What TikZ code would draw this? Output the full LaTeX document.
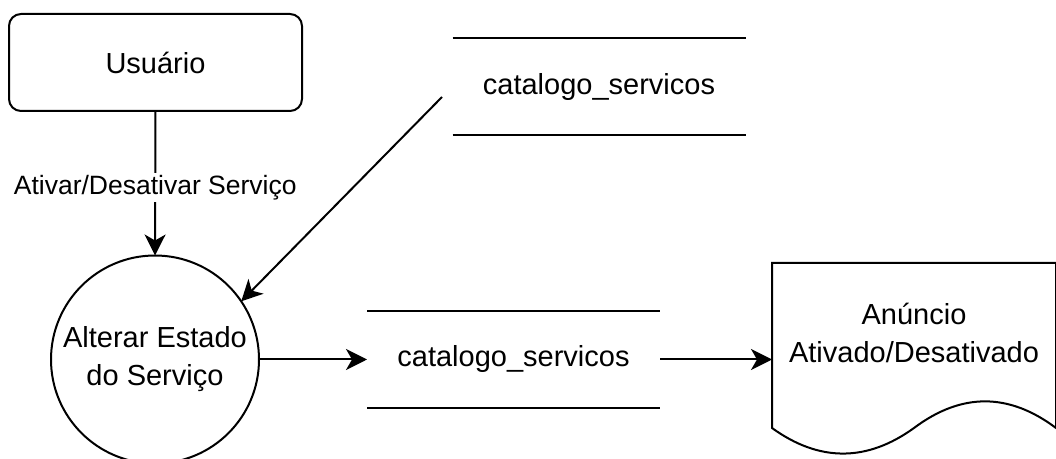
\documentclass[tikz,border=0pt]{standalone}
\usepackage{fontspec}
\setmainfont{Liberation Sans}
\usetikzlibrary{arrows.meta}
\begin{document}
\begin{tikzpicture}[x=0.5pt,y=-0.5pt,
  line width=1pt,
  every node/.style={inner sep=0pt, outer sep=0pt},
  maintext/.style={font=\fontsize{14.5}{19}\selectfont, align=center},
  labeltext/.style={font=\fontsize{13.25}{16}\selectfont, fill=white, inner sep=1pt},
  entitybox/.style={draw, rounded corners=6pt, minimum width=146.5pt, minimum height=48.5pt, maintext},
  procnode/.style={draw, circle, minimum size=104pt, maintext},
  storenode/.style={minimum width=146.5pt, minimum height=48.5pt, maintext},
  flow/.style={-{Stealth[length=10.5pt,width=10.5pt,inset=3pt]}},
]
\useasboundingbox (0,0) rectangle (1056,459);
\clip (0,0) rectangle (1056,459);

\node[entitybox] (user) at (155.5,62.5) {Usuário};
\node[procnode] (proc) at (155,359.5) {Alterar Estado\\do Serviço};
\node[storenode] (store1) at (599,87) {catalogo\_servicos};
\node[storenode] (store2) at (513.5,359.5) {catalogo\_servicos};
\node[minimum width=142pt, minimum height=96.5pt] (doc) at (914,359.5) {};
\node[maintext] (doctext) at (914,333) {Anúncio\\Ativado/Desativado};
\coordinate (src1) at (442,97);

% data stores
\draw (store1.north west) -- (store1.north east);
\draw (store1.south west) -- (store1.south east);
\draw (store2.north west) -- (store2.north east);
\draw (store2.south west) -- (store2.south east);

% document shape
\draw (772,263) -- (1056,263) -- (1056,428)
  .. controls (1008.7,392.5) and (961.3,392.5) .. (914,428)
  .. controls (866.7,462.1) and (819.3,462.1) .. (772,428) -- cycle;

% connectors
\draw[flow] (user.south) -- node[labeltext, pos=0.53] {Ativar/Desativar Serviço} (proc.north);
\draw[flow] (src1) -- (proc.34);
\draw[flow] (proc.east) -- (store2.west);
\draw[flow] (store2.east) -- (doc.west);
\end{tikzpicture}
\end{document}
